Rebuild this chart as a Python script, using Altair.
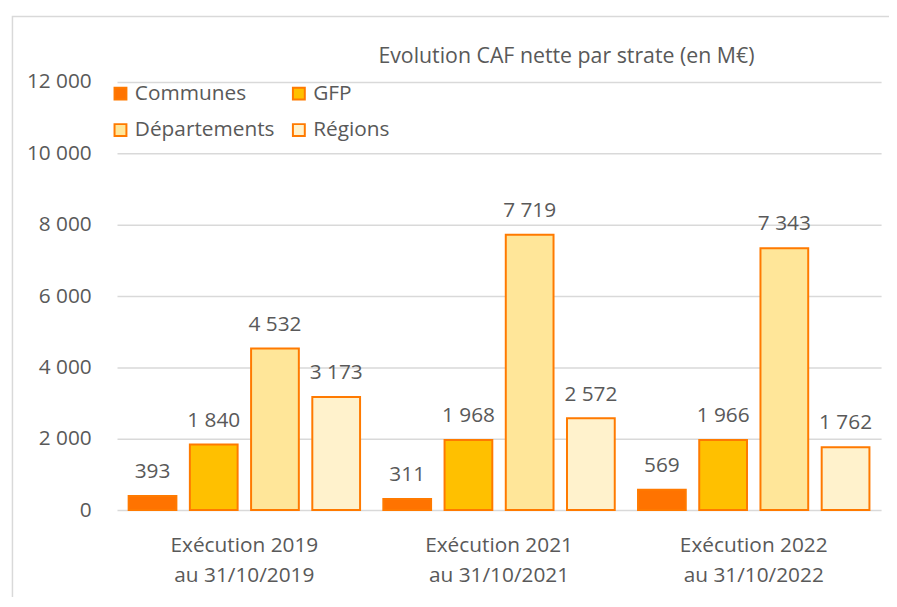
import altair as alt
import pandas as pd

groups = ["Exécution 2019\nau 31/10/2019", "Exécution 2021\nau 31/10/2021", "Exécution 2022\nau 31/10/2022"]
strates = ["Communes", "GFP", "Départements", "Régions"]
communes = [393, 311, 569]
gfp = [1840, 1968, 1966]
departements = [4532, 7719, 7343]
regions = [3173, 2572, 1762]
fills = ["#FF7300", "#FFC000", "#FFE699", "#FFF2CC"]
stroke = "#FF7A00"
txt = "#595959"
FONT = "Open Sans"
FS = 21

rows = []
for i, g in enumerate(groups):
    for s, vals in zip(strates, [communes, gfp, departements, regions]):
        v = vals[i]
        rows.append({"groupe": g, "strate": s, "valeur": v,
                     "label": f"{v:,}".replace(",", " ")})
df = pd.DataFrame(rows)

x = alt.X("groupe:N", sort=groups, title=None,
          scale=alt.Scale(paddingInner=0, paddingOuter=0),
          axis=alt.Axis(labelExpr="split(datum.label, '\\n')", labelAngle=0,
                        labelFontSize=FS, labelColor=txt, labelFont=FONT,
                        labelLineHeight=30, labelPadding=25, ticks=False,
                        domain=False, grid=False, labelBaseline="top"))
xoff = alt.XOffset("strate:N", sort=strates,
                   scale=alt.Scale(paddingInner=0.22, paddingOuter=0.19))
y = alt.Y("valeur:Q", title=None,
          scale=alt.Scale(domain=[0, 12000], nice=False),
          axis=alt.Axis(values=[0, 2000, 4000, 6000, 8000, 10000, 12000],
                        labelExpr="replace(format(datum.value, ','), ',', ' ')",
                        labelFontSize=FS, labelColor=txt, labelFont=FONT,
                        labelPadding=26, ticks=False, domain=False,
                        grid=True, gridColor="#D9D9D9", gridWidth=1.5))

bars = alt.Chart(df).mark_bar(stroke=stroke, strokeWidth=2).encode(
    x=x, xOffset=xoff, y=y,
    fill=alt.Fill("strate:N", sort=strates,
                  scale=alt.Scale(domain=strates, range=fills),
                  legend=alt.Legend(title=None, orient="none", legendX=-7, legendY=1,
                                    direction="horizontal",
                                    columns=2, symbolType="square", symbolSize=144,
                                    symbolStrokeColor=stroke, symbolStrokeWidth=2,
                                    labelFontSize=FS, labelColor=txt, labelFont=FONT,
                                    labelOffset=4, rowPadding=15, columnPadding=13)),
)

labels = alt.Chart(df).mark_text(baseline="alphabetic", dy=-18, fontSize=FS,
                                 color=txt, font=FONT).encode(
    x=x, xOffset=xoff, y=y, text="label:N")

border = alt.Chart(pd.DataFrame({"a": [0]})).mark_rect(
    fill=None, stroke="#D9D9D9", strokeWidth=1.5).encode(
    x=alt.value(-105.5), x2=alt.value(800), y=alt.value(-66), y2=alt.value(600))

title = alt.Chart(pd.DataFrame({"t": ["Evolution CAF nette par strate (en M€)"]})).mark_text(
    fontSize=21.5, font=FONT, color=txt, baseline="middle", align="center").encode(
    x=alt.value(453.5), y=alt.value(-25), text="t:N")

chart = alt.layer(border, bars, labels, title).properties(
    width=771, height=432,
    autosize=alt.AutoSizeParams(type="none"),
    padding={"left": 110, "top": 72, "right": 8, "bottom": 85},
).configure_view(stroke=None)

chart.save("out.html", embed_options={"renderer": "svg", "actions": False})
